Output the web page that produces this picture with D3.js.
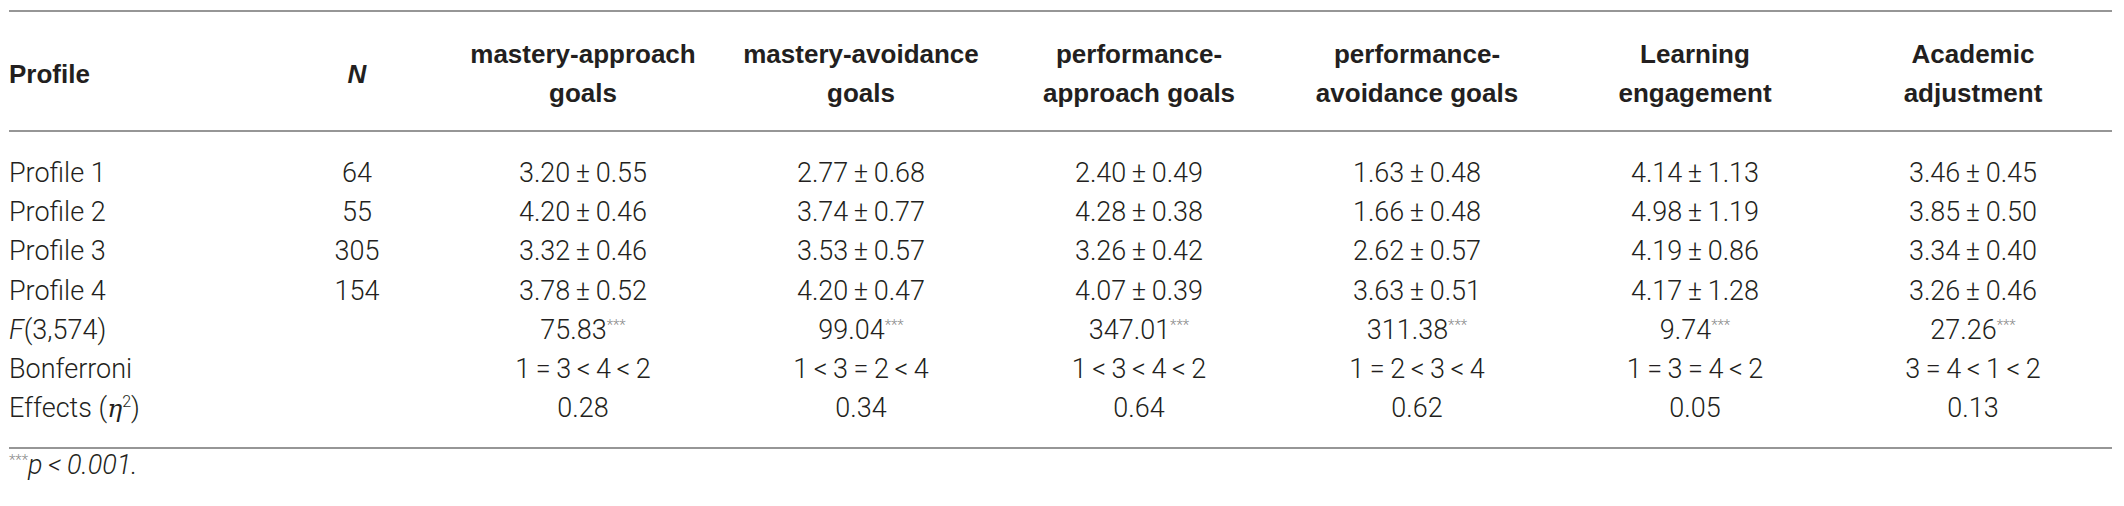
<!DOCTYPE html>
<html>
<head>
<meta charset="utf-8">
<script src="https://cdn.jsdelivr.net/npm/d3@7"></script>
<style>
  html, body { margin: 0; padding: 0; background: #fff; }
  svg { display: block; }
</style>
</head>
<body>
<svg id="chart" width="2124" height="506"></svg>
<script>
// ---------- data ----------
const headerLabels = [
  ["mastery-approach", "goals"],
  ["mastery-avoidance", "goals"],
  ["performance-", "approach goals"],
  ["performance-", "avoidance goals"],
  ["Learning", "engagement"],
  ["Academic", "adjustment"]
];
const measures = ["masteryApproach", "masteryAvoidance", "performanceApproach", "performanceAvoidance", "learningEngagement", "academicAdjustment"];
const profiles = ["Profile 1", "Profile 2", "Profile 3", "Profile 4"];
const nValues = [64, 55, 305, 154];
const means = [
  [3.20, 2.77, 2.40, 1.63, 4.14, 3.46],
  [4.20, 3.74, 4.28, 1.66, 4.98, 3.85],
  [3.32, 3.53, 3.26, 2.62, 4.19, 3.34],
  [3.78, 4.20, 4.07, 3.63, 4.17, 3.26]
];
const sds = [
  [0.55, 0.68, 0.49, 0.48, 1.13, 0.45],
  [0.46, 0.77, 0.38, 0.48, 1.19, 0.50],
  [0.46, 0.57, 0.42, 0.57, 0.86, 0.40],
  [0.52, 0.47, 0.39, 0.51, 1.28, 0.46]
];
const fValues = [75.83, 99.04, 347.01, 311.38, 9.74, 27.26];
const bonferroni = ["1=3<4<2", "1<3=2<4", "1<3<4<2", "1=2<3<4", "1=3=4<2", "3=4<1<2"];
const etaSquared = [0.28, 0.34, 0.64, 0.62, 0.05, 0.13];
const rowKeys = ["p1", "p2", "p3", "p4", "F", "bonf", "eta"];

// ---------- layout ----------
const W = 2124, H = 506;
const svg = d3.select("#chart");
svg.append("rect").attr("width", W).attr("height", H).attr("fill", "#fff");

const textColor = "#231f20";
const ruleColor = "#969696";
const bodyFont = "Roboto, 'Liberation Sans', Arial, sans-serif";
const headFont = "'Liberation Sans', Arial, Helvetica, sans-serif";
const bodySize = 27, headSize = 26;

const xCol = d3.scalePoint().domain(measures).range([583, 1973]);
const xProfile = 9, xN = 357;
const yRow = d3.scalePoint().domain(rowKeys).range([172.5, 408]);
const ruleX = [9, 2112];
const rules = [11, 131, 448];

svg.selectAll("line.rule").data(rules).join("line")
  .attr("class", "rule")
  .attr("x1", ruleX[0]).attr("x2", ruleX[1])
  .attr("y1", d => d).attr("y2", d => d)
  .attr("stroke", ruleColor).attr("stroke-width", 2);

const fmt2 = d3.format(".2f");
const pm = "\u2009\u00b1\u2009";
const spaced = s => s.replace(/([=<])/g, "\u2009$1\u2009");

// ---------- header ----------
const head = svg.append("g")
  .attr("font-family", headFont).attr("font-weight", "bold")
  .attr("font-size", headSize).attr("fill", textColor);
const headMid = 74, headL1 = 54, headL2 = 93;
head.append("text").attr("x", xProfile).attr("y", headMid).attr("dy", "0.35em").text("Profile");
head.append("text").attr("x", xN).attr("y", headMid).attr("dy", "0.35em")
  .attr("text-anchor", "middle").attr("font-style", "italic").text("N");
measures.forEach((m, i) => {
  headerLabels[i].forEach((line, j) => {
    head.append("text")
      .attr("x", xCol(m)).attr("y", j === 0 ? headL1 : headL2).attr("dy", "0.35em")
      .attr("text-anchor", "middle").text(line);
  });
});

// ---------- body ----------
const body = svg.append("g")
  .attr("font-family", bodyFont).attr("font-weight", 300)
  .attr("font-size", bodySize).attr("fill", textColor);

profiles.forEach((p, i) => {
  body.append("text").attr("x", xProfile).attr("y", yRow(rowKeys[i])).attr("dy", "0.35em").text(p);
  body.append("text").attr("x", xN).attr("y", yRow(rowKeys[i])).attr("dy", "0.35em")
    .attr("text-anchor", "middle").text(nValues[i]);
  measures.forEach((m, j) => {
    body.append("text").attr("x", xCol(m)).attr("y", yRow(rowKeys[i])).attr("dy", "0.35em")
      .attr("text-anchor", "middle").text(fmt2(means[i][j]) + pm + fmt2(sds[i][j]));
  });
});

// F row
const fLabel = body.append("text").attr("x", xProfile).attr("y", yRow("F")).attr("dy", "0.35em");
fLabel.append("tspan").attr("font-style", "italic").text("F");
fLabel.append("tspan").text("(3,574)");
measures.forEach((m, j) => {
  const t = body.append("text").attr("x", xCol(m)).attr("y", yRow("F")).attr("dy", "0.35em")
    .attr("text-anchor", "middle");
  t.append("tspan").text(fmt2(fValues[j]));
  t.append("tspan").attr("font-size", 15).attr("dy", -9).attr("fill", "#8a8a8a").text("***");
});

// Bonferroni row
body.append("text").attr("x", xProfile).attr("y", yRow("bonf")).attr("dy", "0.35em").text("Bonferroni");
measures.forEach((m, j) => {
  body.append("text").attr("x", xCol(m)).attr("y", yRow("bonf")).attr("dy", "0.35em")
    .attr("text-anchor", "middle").text(spaced(bonferroni[j]));
});

// Effects row
const eLabel = body.append("text").attr("x", xProfile).attr("y", yRow("eta")).attr("dy", "0.35em");
eLabel.append("tspan").text("Effects (");
eLabel.append("tspan").attr("font-style", "italic").attr("font-family", "'DejaVu Serif', serif").attr("font-size", 25).text("\u03b7");
eLabel.append("tspan").attr("font-size", 16).attr("dy", -10).text("2");
eLabel.append("tspan").attr("dy", 10).text(")");
measures.forEach((m, j) => {
  body.append("text").attr("x", xCol(m)).attr("y", yRow("eta")).attr("dy", "0.35em")
    .attr("text-anchor", "middle").text(fmt2(etaSquared[j]));
});

// footnote
const foot = body.append("text").attr("x", xProfile).attr("y", 474).attr("dy", "0.35em");
foot.append("tspan").attr("font-size", 15).attr("dy", -9).attr("fill", "#8a8a8a").text("***");
foot.append("tspan").attr("dy", 9).attr("font-style", "italic").text("p\u2009<\u20090.001.");
</script>
</body>
</html>
